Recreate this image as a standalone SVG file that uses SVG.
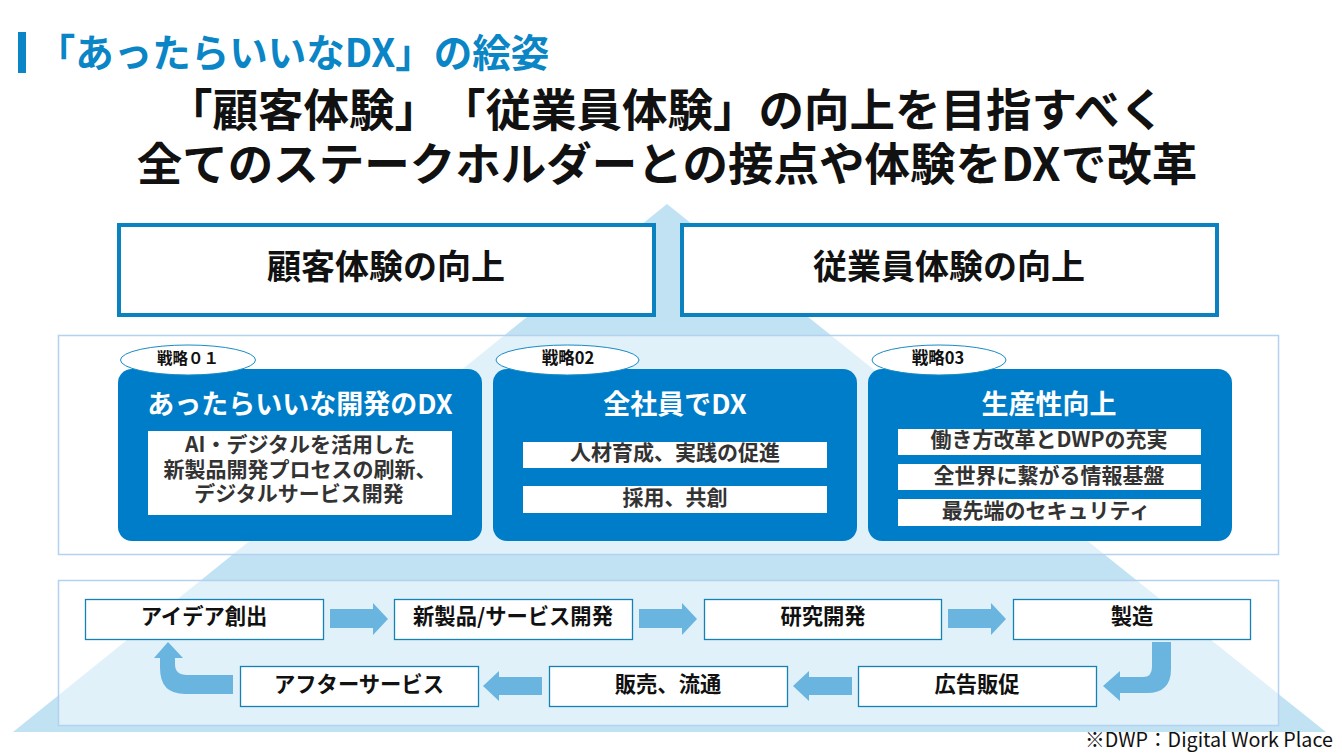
<svg xmlns="http://www.w3.org/2000/svg" width="1342" height="754" viewBox="0 0 1342 754">
<style>
text{font-family:"Noto Sans CJK JP","Noto Sans",sans-serif;font-weight:700;text-anchor:middle;fill:#111;text-spacing-trim:space-all}
.panel{fill:#fff;fill-opacity:.5;stroke:#b4d2f0;stroke-width:1.5}
.goal{fill:#fff;stroke:#0a82bf;stroke-width:4}
.card{fill:#007dc8}
.inner{fill:#fff}
.tag{fill:#fff;stroke:#1a8ac4;stroke-width:1}
.step{fill:#fff;stroke:#1482b4;stroke-width:1.3}
.flow{fill:#69b5e0}
.h{font-size:45.5px}
.g{font-size:34px}
.ct{font-size:27px;fill:#fff}
.it{font-size:21px;fill:#333}
.tg{font-size:16.5px}
.st{font-size:21.3px}
</style>
<rect x="18" y="32" width="8" height="41" fill="#0a85c6"/>
<text x="293" y="67" style="font-size:38.5px;fill:#0a85c6">「あったらいいなDX」の絵姿</text>
<text x="666" y="127" class="h">「顧客体験」「従業員体験」の向上を目指すべく</text>
<text x="667" y="181" class="h">全てのステークホルダーとの接点や体験をDXで改革</text>
<polygon points="667,204 1326,732 13,732" fill="#c1e2f3"/>
<g id="goal-customer"><rect class="goal" x="119" y="225" width="535" height="90"/><text x="386" y="279" class="g">顧客体験の向上</text></g>
<g id="goal-employee"><rect class="goal" x="682" y="225" width="535" height="90"/><text x="949" y="279" class="g">従業員体験の向上</text></g>
<rect id="panel-strategy" class="panel" x="58.5" y="335.5" width="1220" height="219"/>
<rect id="panel-flow" class="panel" x="58.5" y="580.5" width="1220" height="145"/>
<g id="strategy-1">
<rect class="card" x="118" y="369" width="364" height="172" rx="14"/>
<ellipse class="tag" cx="188" cy="360" rx="67.5" ry="15"/><text x="188" y="364" style="font-size:15.5px">戦略０１</text>
<text x="300" y="414" class="ct">あったらいいな開発のDX</text>
<rect class="inner" x="148" y="431" width="304" height="84"/>
<text x="300" y="452" class="it">AI・デジタルを活用した</text>
<text x="300" y="477" class="it">新製品開発プロセスの刷新、</text>
<text x="299" y="501" class="it">デジタルサービス開発</text>
</g>
<g id="strategy-2">
<rect class="card" x="493" y="369" width="364" height="172" rx="14"/>
<ellipse class="tag" cx="567.5" cy="360" rx="71.5" ry="15"/><text x="568" y="364" class="tg">戦略02</text>
<text x="675" y="414" class="ct">全社員でDX</text>
<rect class="inner" x="523" y="442" width="304" height="26"/><text x="675" y="460" class="it">人材育成、実践の促進</text>
<rect class="inner" x="523" y="486" width="304" height="27"/><text x="675" y="505" class="it">採用、共創</text>
</g>
<g id="strategy-3">
<rect class="card" x="868" y="369" width="364" height="172" rx="14"/>
<ellipse class="tag" cx="939" cy="360" rx="67" ry="15"/><text x="938" y="364" class="tg">戦略03</text>
<text x="1049" y="414" class="ct">生産性向上</text>
<rect class="inner" x="898" y="429" width="303" height="26"/><text x="1049" y="447" class="it">働き方改革とDWPの充実</text>
<rect class="inner" x="898" y="464" width="303" height="26"/><text x="1049" y="483" class="it">全世界に繋がる情報基盤</text>
<rect class="inner" x="898" y="499" width="303" height="27"/><text x="1046" y="518" class="it">最先端のセキュリティ</text>
</g>
<g id="connectors">
<polygon class="flow" points="330,609 373,609 373,603 388,619 373,635 373,628 330,628"/>
<polygon class="flow" points="639,609 682,609 682,603 697,619 682,635 682,628 639,628"/>
<polygon class="flow" points="948,609 991,609 991,603 1006,619 991,635 991,628 948,628"/>
<polygon class="flow" points="852,677 809,677 809,671 793,686 809,701 809,695 852,695"/>
<polygon class="flow" points="542,677 499,677 499,671 483,686 499,701 499,695 542,695"/>
<path class="flow" d="M1152,642H1171V669Q1171,693 1147,693H1120V701L1103,686L1120,671V677H1143Q1152,677 1152,667Z"/>
<path class="flow" d="M233,675V694H185Q160,694 160,668V658H154L168,642L183,658H175V664Q175,675 187,675Z"/>
</g>
<g id="step-idea"><rect class="step" x="85.5" y="599.5" width="238" height="40"/><text x="204" y="624" class="st">アイデア創出</text></g>
<g id="step-product"><rect class="step" x="394.5" y="599.5" width="238" height="40"/><text x="513" y="624" class="st">新製品/サービス開発</text></g>
<g id="step-rnd"><rect class="step" x="704.5" y="599.5" width="237" height="40"/><text x="823" y="624" class="st">研究開発</text></g>
<g id="step-mfg"><rect class="step" x="1013.5" y="599.5" width="237" height="40"/><text x="1132" y="624" class="st">製造</text></g>
<g id="step-after"><rect class="step" x="240.5" y="666.5" width="238" height="40"/><text x="359" y="692" class="st">アフターサービス</text></g>
<g id="step-sales"><rect class="step" x="549.5" y="666.5" width="238" height="40"/><text x="668" y="692" class="st">販売、流通</text></g>
<g id="step-promo"><rect class="step" x="858.5" y="666.5" width="238" height="40"/><text x="977" y="692" class="st">広告販促</text></g>
<text x="1209" y="747" style="font-size:19.7px;font-weight:400">※DWP：Digital Work Place</text>
</svg>
